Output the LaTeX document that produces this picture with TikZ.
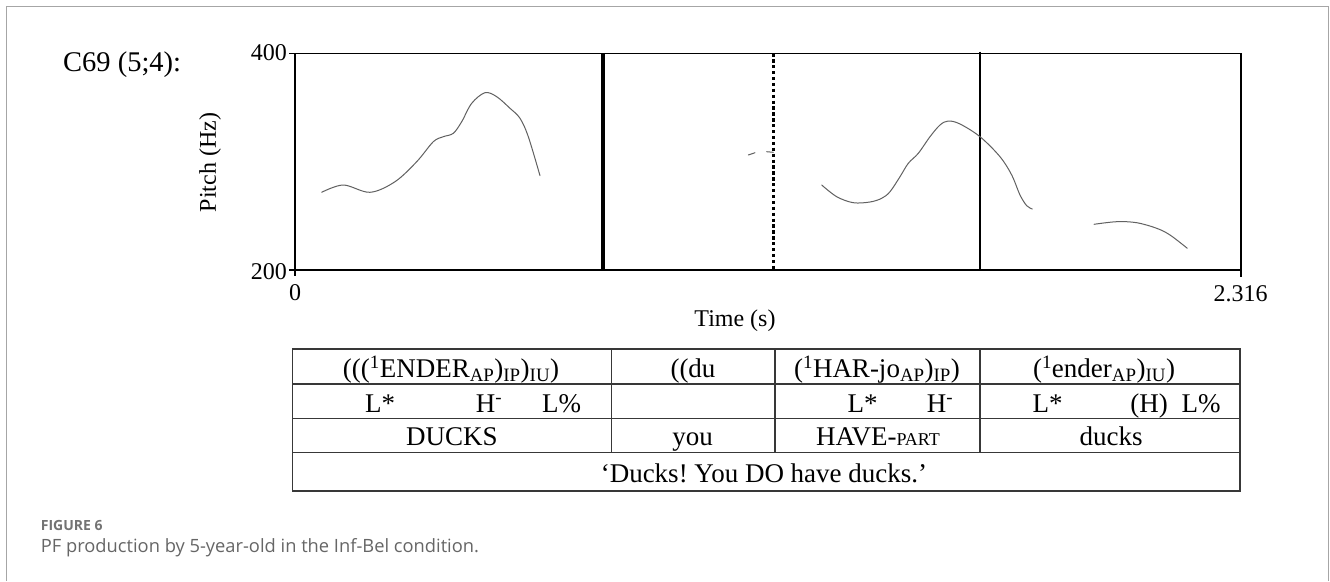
\documentclass[tikz,border=0pt]{standalone}
\usepackage{fontspec}
\setmainfont{Liberation Serif}
\newfontfamily\capfont{Open Sans}
\frenchspacing
\begin{document}
\begin{tikzpicture}[x=1pt,y=-1pt,
  tbl/.style={font=\fontsize{27}{32}\selectfont, inner sep=0pt, anchor=base},
  ax/.style={font=\fontsize{24}{28}\selectfont, inner sep=0pt},
  f0/.style={draw=black!62, line width=1pt, line join=round, line cap=round},
  boxline/.style={draw=black, line width=1.3pt},
  tline/.style={draw=black!78, line width=1.1pt},
  frameline/.style={draw=black!35, line width=1pt},
  bnd/.style={draw=black},
]
\useasboundingbox (0,0) rectangle (1330,581);
\fill[white] (0,0) rectangle (1330,581);
% outer frame
\draw[frameline] (6.5,581) -- (6.5,6.5) -- (1328.5,6.5) -- (1328.5,581);

% label
\node[font=\fontsize{28.5}{32}\selectfont, inner sep=0pt, anchor=west] (spk) at (63,65) {C69 (5;4):};

% plot box
\coordinate (bl) at (295,270);
\coordinate (tl) at (295,53.3);
\coordinate (tr) at (1241,53.3);
\coordinate (br) at (1241,270);
\draw[boxline] (tr) -- (tl) -- (bl) -- (br) -- cycle;
% ticks
\draw[boxline] (289,53.3) -- (tl);
\draw[boxline] (289,270) -- (bl);
\draw[boxline] (bl) -- (295,276);
\draw[boxline] (br) -- (1241,277);

\node[ax, anchor=east] (y400) at (287,53) {400};
\node[ax, anchor=east] (y200) at (287,271.5) {200};
\node[ax] (x0) at (295,293) {0};
\node[ax] (x1) at (1240.5,294) {2.316};
\node[ax] (xlab) at (735,321) {Time (s)};
\node[ax, rotate=90] (ylab) at (210,162.5) {Pitch (Hz)};

% boundaries
\draw[bnd, line width=3.8pt] (602.7,53.3) -- (602.7,270);
\draw[bnd, line width=2.7pt, dash pattern=on 3.3pt off 2.6pt] (773.3,53.3) -- (773.3,270);
\draw[bnd, line width=2.9pt] (980,51.7) -- (980,270);

% pitch contours
\draw[f0] plot[smooth, tension=0.55] coordinates {(321.7,192.3) (343.3,185) (370,192.3) (395,181.7) (416.7,161.7) (433.3,141.7) (443.3,136.7) (453.3,133.3) (461.7,121.7) (471.7,103.3) (485,92.7) (496.7,96.7) (510,108.3) (520,118.3) (528.3,136.7) (540,175.7)};
\draw[f0] (748.3,155) -- (755,152.7);
\draw[f0] (766.7,151.7) -- (773.3,152.3);
\draw[f0] plot[smooth, tension=0.55] coordinates {(821.7,185) (836.7,196.7) (853.3,202.7) (870,202) (881.7,198.3) (890,191.7) (900,176.7) (908.3,163.3) (918.3,153.3) (930,136.7) (940,125) (948.3,121) (960,124) (980,136.7) (1000,156.7) (1011.7,175) (1020,195) (1026.7,205.7) (1032.3,209)};
\draw[f0] plot[smooth, tension=0.55] coordinates {(1094,224.3) (1116.7,221.7) (1136.7,222.7) (1156.7,228.3) (1170,235) (1187.3,248.3)};

% table
\draw[tline] (292.7,349) rectangle (1240,491);
\draw[tline] (292.7,384) -- (1240,384);
\draw[tline] (292.7,418.3) -- (1240,418.3);
\draw[tline] (292.7,452.7) -- (1240,452.7);
\draw[tline] (611.7,349) -- (611.7,452.7);
\draw[tline] (775,349) -- (775,452.7);
\draw[tline] (980,349) -- (980,452.7);

% row 1
\node[tbl] (r1a) at (451,377.3) {(((\textsuperscript{1}ENDER\textsubscript{AP})\textsubscript{IP})\textsubscript{IU})};
\node[tbl] (r1b) at (693,377.3) {((du};
\node[tbl] (r1c) at (877,377.3) {(\textsuperscript{1}HAR-jo\textsubscript{AP})\textsubscript{IP})};
\node[tbl] (r1d) at (1104,377.3) {(\textsuperscript{1}ender\textsubscript{AP})\textsubscript{IU})};
% row 2
\node[tbl] (r2a) at (380,412.7) {L*};
\node[tbl] (r2b) at (489,412.7) {H\textsuperscript{-}};
\node[tbl] (r2c) at (561.7,412.7) {L\%};
\node[tbl] (r2d) at (862.5,412.7) {L*};
\node[tbl] (r2e) at (940,412.7) {H\textsuperscript{-}};
\node[tbl] (r2f) at (1047.5,412.7) {L*};
\node[tbl] (r2g) at (1149,412.7) {(H)};
\node[tbl] (r2h) at (1201,412.7) {L\%};
% row 3
\node[tbl] (r3a) at (452,445) {DUCKS};
\node[tbl] (r3b) at (692.5,445) {you};
\node[tbl] (r3c) at (878,445) {HAVE-{\fontsize{18}{20}\selectfont PART}};
\node[tbl] (r3d) at (1111,445) {ducks};
% row 4
\node[tbl] (r4) at (764,482.7) {‘Ducks! You DO have ducks.’};

% caption
\node[font=\capfont\bfseries\fontsize{14}{17}\selectfont, text=black!55, inner sep=0pt, anchor=base west] (figno) at (40.7,530) {FIGURE 6};
\node[font=\capfont\fontsize{18.3}{22}\selectfont, text=black!60, inner sep=0pt, anchor=base west] (cap) at (40.7,552.7) {PF production by 5-year-old in the Inf-Bel condition.};
\end{tikzpicture}
\end{document}
